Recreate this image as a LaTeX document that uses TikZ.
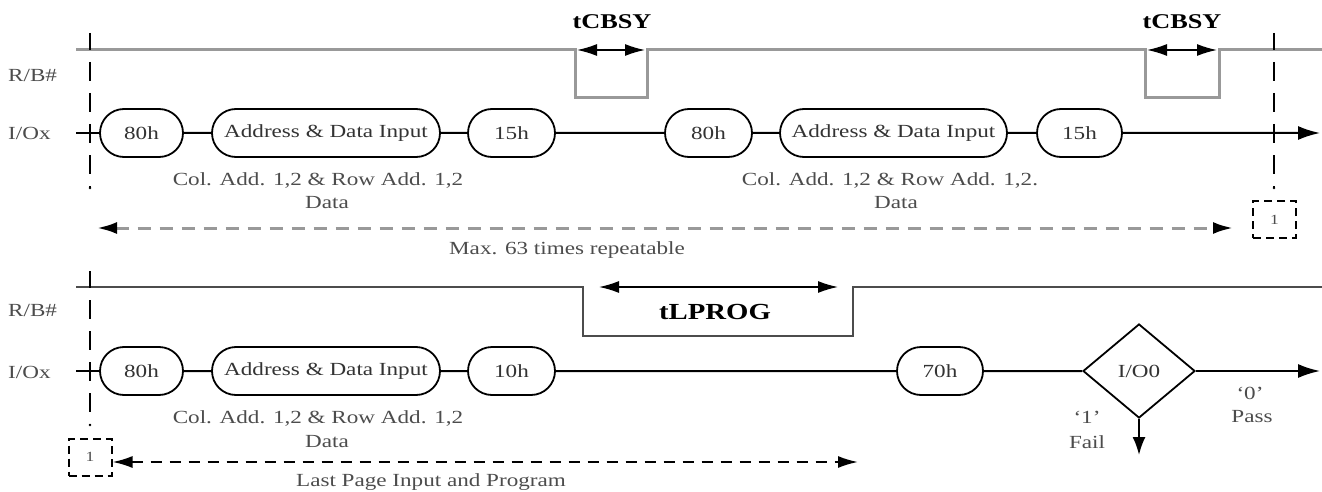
\documentclass[tikz,border=0pt]{standalone}
\usepackage{fontspec}
\setmainfont{Liberation Serif}[FakeStretch=1.25]
\usetikzlibrary{arrows.meta,shapes.misc,shapes.geometric}
\definecolor{txt}{gray}{0.3}
\definecolor{rbtop}{gray}{0.6}
\definecolor{rbbot}{gray}{0.3}
\begin{document}
\begin{tikzpicture}[x=1pt,y=-1pt,
  lbl/.style={text=txt,font=\fontsize{18.5}{21}\selectfont,inner sep=0},
  boldlbl/.style={text=black,font=\fontsize{21}{24}\selectfont\bfseries,inner sep=0},
  pill/.style={rounded rectangle,draw=black,line width=1.8pt,minimum height=48pt,inner sep=0,text=black!80,font=\fontsize{18.5}{21}\selectfont},
  dia/.style={diamond,draw=black,line width=1.8pt,minimum width=112pt,minimum height=94pt,inner sep=0,text=black!80,font=\fontsize{18.5}{21}\selectfont},
  io/.style={draw=black,line width=2pt},
  rbA/.style={draw=rbtop,line width=3pt},
  rbB/.style={draw=rbbot,line width=2.2pt},
  vdash/.style={draw=black,line width=2.5pt,dash pattern=on 19pt off 12pt,dash phase=2pt},
  dbox/.style={draw=black,line width=2pt,dash pattern=on 8pt off 5pt,minimum width=43pt,minimum height=37pt,inner sep=0,text=txt,font=\fontsize{14}{16}\selectfont},
  bigtip/.style={-{Latex[length=22pt,width=14pt,color=black]}},
  dbltip/.style={{Latex[length=20pt,width=12pt,color=black]}-{Latex[length=20pt,width=12pt,color=black]}}
]
\useasboundingbox (0,0) rectangle (1322,492);

% ---------------- top section ----------------
\node[lbl,anchor=west] (rb1) at (8,75) {R/B\#};
\node[lbl,anchor=west] (io1) at (8,133) {I/Ox};

\draw[rbA] (76,50) -- (575,50) -- (575,98) -- (647,98) -- (647,50)
  -- (1145,50) -- (1145,98) -- (1219,98) -- (1219,50) -- (1322,50);
\coordinate (p1l) at (577,50); \coordinate (p1r) at (645,50);
\coordinate (p2l) at (1147,50); \coordinate (p2r) at (1217,50);
\draw[line width=1.5pt,dbltip] (p1l) -- (p1r);
\draw[line width=1.5pt,dbltip] (p2l) -- (p2r);
\node[boldlbl] (tc1) at (612,22) {tCBSY};
\node[boldlbl] (tc2) at (1182,22) {tCBSY};

\coordinate (vt1) at (90,33); \coordinate (vb1) at (90,188);
\draw[vdash] (vt1) -- (vb1);
\fill (90,188) circle (1.4pt);
\coordinate (vt2) at (1274,33); \coordinate (vb2) at (1274,188);
\draw[vdash] (vt2) -- (vb2);
\fill (1274,188) circle (1.4pt);

\node[pill,minimum width=83pt] (a1) at (141.5,133) {80h};
\node[pill,minimum width=228pt] (b1) at (326,133) {Address \& Data Input};
\node[pill,minimum width=87pt] (c1) at (511.5,133) {15h};
\node[pill,minimum width=87pt] (a2) at (708.5,133) {80h};
\node[pill,minimum width=227pt] (b2) at (893.5,133) {Address \& Data Input};
\node[pill,minimum width=85pt] (c2) at (1079.5,133) {15h};
\coordinate (ios1) at (76,133);
\coordinate (ioe1) at (1320,133);
\draw[io] (ios1) -- (a1);
\draw[io] (a1) -- (b1);
\draw[io] (b1) -- (c1);
\draw[io] (c1) -- (a2);
\draw[io] (a2) -- (b2);
\draw[io] (b2) -- (c2);
\draw[io,bigtip] (c2) -- (ioe1);

\node[lbl] (ca1) at (318,181) {Col. Add. 1,2 \& Row Add. 1,2};
\node[lbl] (da1) at (327,203) {Data};
\node[lbl] (ca2) at (890,181) {Col. Add. 1,2 \& Row Add. 1,2.};
\node[lbl] (da2) at (896,203) {Data};

\node[dbox] (box1) at (1274.5,219.5) {1};
\coordinate (rs1) at (97,228);
\coordinate (re1) at (1233,228);
\draw[draw=rbtop,line width=3pt,dash pattern=on 13pt off 9pt,dbltip] (rs1) -- (re1);
\node[lbl] (max) at (567,250) {Max. 63 times repeatable};

% ---------------- bottom section ----------------
\node[lbl,anchor=west] (rb2) at (8,310) {R/B\#};
\node[lbl,anchor=west] (io2) at (8,372) {I/Ox};

\draw[rbB] (76,287) -- (583,287) -- (583,336) -- (853,336) -- (853,287) -- (1322,287);
\coordinate (pl) at (599,287); \coordinate (pr) at (838,287);
\draw[line width=1.5pt,dbltip] (pl) -- (pr);
\node[boldlbl,font=\fontsize{23}{26}\selectfont\bfseries] (tl) at (715,312) {tLPROG};

\coordinate (vt3) at (90,271); \coordinate (vb3) at (90,425);
\draw[vdash] (vt3) -- (vb3);
\fill (90,425) circle (1.4pt);

\node[pill,minimum width=83pt] (a3) at (141.5,371) {80h};
\node[pill,minimum width=228pt] (b3) at (326,371) {Address \& Data Input};
\node[pill,minimum width=87pt] (c3) at (511.5,371) {10h};
\node[pill,minimum width=86pt] (d3) at (940,371) {70h};
\node[dia] (q) at (1139,371) {I/O0};
\coordinate (ios2) at (76,371);
\coordinate (ioe2) at (1320,371);
\coordinate (fe) at (1139,455);
\draw[io] (ios2) -- (a3);
\draw[io] (a3) -- (b3);
\draw[io] (b3) -- (c3);
\draw[io] (c3) -- (d3);
\draw[io] (d3) -- (q);
\draw[io,bigtip] (q) -- (ioe2);
\draw[io,-{Latex[length=18pt,width=13pt]}] (q.south) -- (fe);

\node[lbl] (ca3) at (318,419) {Col. Add. 1,2 \& Row Add. 1,2};
\node[lbl] (da3) at (327,442) {Data};
\node[lbl] (one) at (1087,417) {`1'};
\node[lbl] (fail) at (1087,442) {Fail};
\node[lbl] (zero) at (1250,393) {`0'};
\node[lbl] (pass) at (1252,417) {Pass};

\node[dbox] (box2) at (90,457) {1};
\coordinate (re2) at (858,462);
\draw[draw=black,line width=2pt,dash pattern=on 11pt off 8pt,dbltip] (box2.east |- re2) -- (re2);
\node[lbl] (last) at (431,482) {Last Page Input and Program};
\end{tikzpicture}
\end{document}
